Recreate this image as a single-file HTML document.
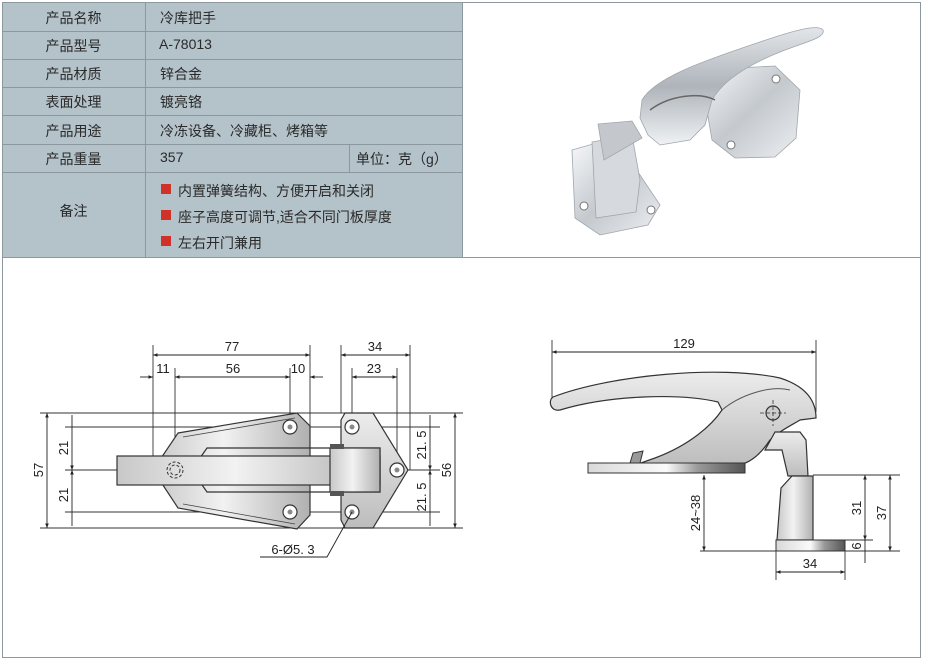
<!DOCTYPE html>
<html><head><meta charset="utf-8"><style>
html,body{margin:0;padding:0;background:#fff;width:925px;height:662px;overflow:hidden}
.t{position:absolute;font-family:"Liberation Sans","Noto Sans CJK SC",sans-serif;font-size:14px;color:#2a2a2a;white-space:nowrap}
</style></head><body>
<svg width="925" height="662" style="position:absolute;left:0;top:0" font-family="Liberation Sans, sans-serif">
<defs>
<linearGradient id="m" x1="0" y1="0" x2="1" y2="0"><stop offset="0" stop-color="#c8c8c8"/><stop offset="0.45" stop-color="#f2f2f2"/><stop offset="1" stop-color="#b0b0b0"/></linearGradient>
<linearGradient id="mv" x1="0" y1="0" x2="0" y2="1"><stop offset="0" stop-color="#ececec"/><stop offset="1" stop-color="#bdbdbd"/></linearGradient>
<linearGradient id="ch" x1="0" y1="0" x2="1" y2="1"><stop offset="0" stop-color="#f6f8fa"/><stop offset="0.5" stop-color="#c4c9ce"/><stop offset="1" stop-color="#eceff2"/></linearGradient>
<linearGradient id="ch2" x1="0" y1="0" x2="0" y2="1"><stop offset="0" stop-color="#e2e6ea"/><stop offset="0.5" stop-color="#aeb4ba"/><stop offset="1" stop-color="#f0f2f4"/></linearGradient>
<linearGradient id="bs" x1="0" y1="0" x2="1" y2="0"><stop offset="0" stop-color="#d9d9d9"/><stop offset="0.5" stop-color="#fafafa"/><stop offset="0.7" stop-color="#999"/><stop offset="1" stop-color="#555"/></linearGradient>
<marker id="a" viewBox="0 0 10 10" refX="10" refY="5" markerWidth="7" markerHeight="5" orient="auto-start-reverse"><path d="M0,1 L10,5 L0,9z" fill="#222"/></marker>
</defs>
<rect x="2" y="2" width="460" height="255" fill="#b4c2c9"/>
<g stroke="#8c989e" stroke-width="1" fill="none">
<rect x="2.5" y="2.5" width="918" height="655"/>
<line x1="2" y1="257.5" x2="921" y2="257.5"/>
<line x1="462.5" y1="2" x2="462.5" y2="257"/>
<line x1="145.5" y1="2" x2="145.5" y2="257"/>
<line x1="349.5" y1="144" x2="349.5" y2="172"/>
<line x1="2" y1="31.5" x2="462" y2="31.5"/>
<line x1="2" y1="59.5" x2="462" y2="59.5"/>
<line x1="2" y1="87.5" x2="462" y2="87.5"/>
<line x1="2" y1="115.5" x2="462" y2="115.5"/>
<line x1="2" y1="144.5" x2="462" y2="144.5"/>
<line x1="2" y1="172.5" x2="462" y2="172.5"/>
</g>
<rect x="161" y="184" width="10" height="10" fill="#d0322a"/>
<rect x="161" y="210" width="10" height="10" fill="#d0322a"/>
<rect x="161" y="236" width="10" height="10" fill="#d0322a"/>

<!-- photo -->
<g stroke="#a0a6ac" stroke-width="0.8">
<path d="M700,70 L775,66 L800,90 L796,138 L775,157 L735,158 L712,140 Z" fill="url(#ch)"/>
<path d="M642,100 C655,78 700,62 760,42 C795,30 818,24 823,30 C826,38 805,42 780,52 C745,66 722,82 712,100 L705,125 L690,140 L660,145 L648,135 L640,118 Z" fill="url(#ch2)"/>
<path d="M650,110 C670,95 700,92 715,100" stroke="#666" fill="none" stroke-width="1.5"/>
<path d="M572,150 L600,142 L630,160 L660,205 L648,225 L600,235 L575,218 Z" fill="url(#ch)"/>
<path d="M592,142 L632,135 L640,180 L636,212 L596,218 Z" fill="#d6dade"/>
<path d="M598,124 L632,121 L642,138 L604,160 Z" fill="#c4c8cc"/>
</g>
<g fill="#fff" stroke="#777"><circle cx="776" cy="79" r="4"/><circle cx="731" cy="145" r="4"/><circle cx="584" cy="206" r="4"/><circle cx="651" cy="210" r="4"/></g>

<!-- left drawing -->
<g stroke="#333" stroke-width="0.9" fill="none">
<line x1="40" y1="413" x2="463" y2="413"/>
<line x1="40" y1="528" x2="463" y2="528"/>
<line x1="65" y1="427" x2="440" y2="427"/>
<line x1="65" y1="512" x2="440" y2="512"/>
<line x1="65" y1="470" x2="440" y2="470"/>
<line x1="153" y1="345" x2="153" y2="470"/>
<line x1="175" y1="368" x2="175" y2="470"/>
<line x1="290" y1="368" x2="290" y2="427"/>
<line x1="310" y1="345" x2="310" y2="428"/>
<line x1="341" y1="345" x2="341" y2="413"/>
<line x1="410" y1="345" x2="410" y2="470"/>
<line x1="352" y1="368" x2="352" y2="427"/>
<line x1="397" y1="368" x2="397" y2="470"/>
</g>
<path d="M178,433 L297,413 L310,426 L310,515 L297,529 L178,508 L153,470 Z" fill="url(#m)" stroke="#333" stroke-width="1.2"/>
<path d="M183,437 L295,418 M183,504 L295,524" stroke="#444" stroke-width="0.8"/>
<path d="M345,413 L373,413 L408,470 L373,528 L345,528 L341,520 L341,420 Z" fill="url(#mv)" stroke="#333" stroke-width="1.2"/>
<path d="M207,448 L380,448 L380,492 L207,492 L200,482 L200,458 Z" fill="none" stroke="#333" stroke-width="1.2"/>
<rect x="117" y="456" width="263" height="29" fill="url(#m)" stroke="#333" stroke-width="1.2"/>
<rect x="330" y="448" width="50" height="44" fill="url(#m)" stroke="#333" stroke-width="1.2"/>
<rect x="330" y="444" width="14" height="5" fill="#555"/><rect x="330" y="491" width="14" height="5" fill="#555"/>
<g stroke="#333" fill="#fff" stroke-width="1.2">
<circle cx="290" cy="427" r="7"/><circle cx="290" cy="512" r="7"/>
<circle cx="352" cy="427" r="7"/><circle cx="397" cy="470" r="7"/><circle cx="352" cy="512" r="7"/>
</g>
<g fill="#888"><circle cx="290" cy="427" r="2.5"/><circle cx="290" cy="512" r="2.5"/><circle cx="352" cy="427" r="2.5"/><circle cx="397" cy="470" r="2.5"/><circle cx="352" cy="512" r="2.5"/></g>
<circle cx="175" cy="470" r="8" fill="none" stroke="#333" stroke-dasharray="3,2"/>
<circle cx="175" cy="470" r="5" fill="none" stroke="#333" stroke-dasharray="3,2"/>
<g stroke="#222" stroke-width="0.9" fill="none">
<line x1="153" y1="355" x2="310" y2="355" marker-start="url(#a)" marker-end="url(#a)"/>
<line x1="140" y1="377" x2="153" y2="377" marker-end="url(#a)"/>
<line x1="175" y1="377" x2="290" y2="377" marker-start="url(#a)" marker-end="url(#a)"/>
<line x1="323" y1="377" x2="310" y2="377" marker-end="url(#a)"/>
<line x1="341" y1="355" x2="410" y2="355" marker-start="url(#a)" marker-end="url(#a)"/>
<line x1="352" y1="377" x2="397" y2="377" marker-start="url(#a)" marker-end="url(#a)"/>
<line x1="47" y1="413" x2="47" y2="528" marker-start="url(#a)" marker-end="url(#a)"/>
<line x1="72" y1="415" x2="72" y2="470" marker-end="url(#a)"/>
<line x1="72" y1="470" x2="72" y2="526" marker-start="url(#a)"/>
<line x1="430" y1="415" x2="430" y2="470" marker-end="url(#a)"/>
<line x1="430" y1="470" x2="430" y2="526" marker-start="url(#a)"/>
<line x1="455" y1="413" x2="455" y2="528" marker-start="url(#a)" marker-end="url(#a)"/>
<polyline points="260,557 327,557 352,512"/>
</g>
<g font-size="13" fill="#222" text-anchor="middle">
<text x="232" y="351">77</text><text x="163" y="373">11</text><text x="233" y="373">56</text><text x="298" y="373">10</text>
<text x="375" y="351">34</text><text x="374" y="373">23</text>
<text x="293" y="554">6-Ø5. 3</text>
<text transform="translate(43,470) rotate(-90)">57</text>
<text transform="translate(68,448) rotate(-90)">21</text>
<text transform="translate(68,495) rotate(-90)">21</text>
<text transform="translate(426,445) rotate(-90)">21. 5</text>
<text transform="translate(426,497) rotate(-90)">21. 5</text>
<text transform="translate(451,470) rotate(-90)">56</text>
</g>

<!-- right drawing -->
<g stroke="#333" stroke-width="0.9" fill="none">
<line x1="552" y1="340" x2="552" y2="400"/>
<line x1="816" y1="340" x2="816" y2="412"/>
<line x1="700" y1="551" x2="900" y2="551"/>
<line x1="813" y1="475" x2="900" y2="475"/>
<line x1="845" y1="540" x2="873" y2="540"/>
<line x1="776" y1="551" x2="776" y2="580"/>
<line x1="845" y1="551" x2="845" y2="580"/>
</g>
<path d="M553,397 C610,375 720,365 780,378 C805,386 816,400 816,418 L800,420 C790,426 778,432 770,440 C760,455 748,465 735,465 L635,465 L655,458 C690,445 712,425 722,410 L718,402 C680,393 610,395 560,410 C550,412 548,400 553,397 Z" fill="url(#mv)" stroke="#333" stroke-width="1.2"/>
<path d="M722,410 C740,395 770,385 790,390" stroke="#555" fill="none"/>
<path d="M775,432 L800,432 L806,440 L808,476 L788,476 L782,450 L765,450 Z" fill="url(#mv)" stroke="#333" stroke-width="1.2"/>
<rect x="588" y="463" width="157" height="10" fill="url(#bs)" stroke="#333"/>
<path d="M630,463 L633,453 L643,451 L640,463 Z" fill="#999" stroke="#333"/>
<path d="M792,476 L813,476 L813,540 L777,540 L781,488 Z" fill="url(#m)" stroke="#333" stroke-width="1.2"/>
<rect x="776" y="540" width="69" height="11" fill="url(#bs)" stroke="#333"/>
<circle cx="773" cy="413" r="7" fill="#ccc" stroke="#333" stroke-width="1.2"/>
<path d="M760,413 H786 M773,400 V426" stroke="#333" stroke-width="0.8" stroke-dasharray="4,2"/>
<g stroke="#222" stroke-width="0.9" fill="none">
<line x1="552" y1="352" x2="816" y2="352" marker-start="url(#a)" marker-end="url(#a)"/>
<line x1="704" y1="475" x2="704" y2="551" marker-start="url(#a)" marker-end="url(#a)"/>
<line x1="865" y1="475" x2="865" y2="540" marker-start="url(#a)" marker-end="url(#a)"/>
<line x1="890" y1="475" x2="890" y2="551" marker-start="url(#a)" marker-end="url(#a)"/>
<line x1="865" y1="540" x2="865" y2="563"/>
<line x1="776" y1="572" x2="845" y2="572" marker-start="url(#a)" marker-end="url(#a)"/>
</g>
<g font-size="13" fill="#222" text-anchor="middle">
<text x="684" y="348">129</text>
<text x="810" y="568">34</text>
<text transform="translate(700,513) rotate(-90)">24~38</text>
<text transform="translate(861,508) rotate(-90)">31</text>
<text transform="translate(886,513) rotate(-90)">37</text>
<text transform="translate(861,546) rotate(-90)">6</text>
</g>
</svg>
<div class="t" style="left:2px;top:8px;width:143px;text-align:center">产品名称</div>
<div class="t" style="left:2px;top:36px;width:143px;text-align:center">产品型号</div>
<div class="t" style="left:2px;top:64px;width:143px;text-align:center">产品材质</div>
<div class="t" style="left:2px;top:92px;width:143px;text-align:center">表面处理</div>
<div class="t" style="left:2px;top:121px;width:143px;text-align:center">产品用途</div>
<div class="t" style="left:2px;top:149px;width:143px;text-align:center">产品重量</div>
<div class="t" style="left:2px;top:201px;width:143px;text-align:center">备注</div>
<div class="t" style="left:160px;top:8px">冷库把手</div>
<div class="t" style="left:159px;top:36px">A-78013</div>
<div class="t" style="left:160px;top:64px">锌合金</div>
<div class="t" style="left:160px;top:92px">镀亮铬</div>
<div class="t" style="left:160px;top:121px">冷冻设备、冷藏柜、烤箱等</div>
<div class="t" style="left:160px;top:149px">357</div>
<div class="t" style="left:356px;top:149px">单位：克（g）</div>
<div class="t" style="left:178px;top:181px">内置弹簧结构、方便开启和关闭</div>
<div class="t" style="left:178px;top:207px">座子高度可调节,适合不同门板厚度</div>
<div class="t" style="left:178px;top:233px">左右开门兼用</div>
</body></html>
